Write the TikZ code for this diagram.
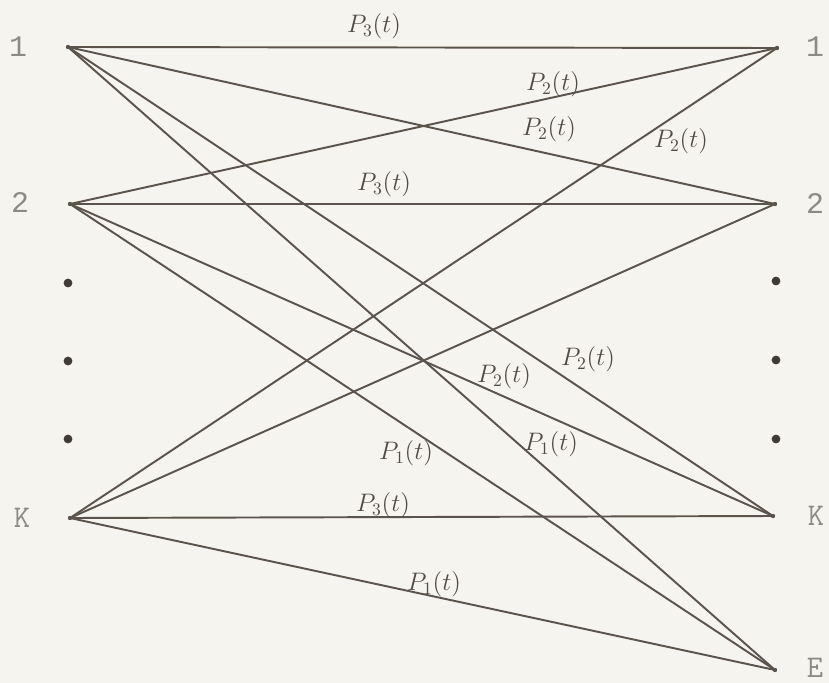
\documentclass[tikz,border=0pt]{standalone}
\usepackage{fontspec}
\setmonofont{Liberation Mono}
\newfontfamily\lmmono{Latin Modern Mono}
\begin{document}
\begin{tikzpicture}[x={(0.02cm,0)}, y={(0,-0.02cm)},
  edge/.style={draw=linec, line width=1.1pt},
  vlab/.style={text=labc, font=\ttfamily\fontsize{17}{17}\selectfont, inner sep=0pt},
  vlabs/.style={text=labc, font=\lmmono\fontsize{18}{18}\selectfont, inner sep=0pt},
  plab/.style={text=linec!90!black, font=\fontsize{14}{14}\selectfont, inner sep=0pt},
  vdot/.style={circle, fill=linec!70!black, inner sep=0pt, minimum size=5pt},
  pt/.style={circle, fill=linec, inner sep=0pt, minimum size=2.5pt}]
\definecolor{bgc}{HTML}{F6F4EE}
\definecolor{linec}{HTML}{5B544C}
\definecolor{labc}{HTML}{8A8A88}
\fill[bgc] (0,0) rectangle (829,683);
\useasboundingbox (0,0) rectangle (829,683);
% vertices
\node[pt] (L1) at (68,47) {};
\node[pt] (L2) at (70,204) {};
\node[pt] (LK) at (70,518) {};
\node[pt] (R1) at (777,48) {};
\node[pt] (R2) at (775,204) {};
\node[pt] (RK) at (773,516) {};
\node[pt] (E) at (775,670) {};
% vertex labels
\node[vlab] (tL1) at (18,47) {1};
\node[vlab] (tL2) at (20,203) {2};
\node[vlabs] (tLK) at (22,518) {K};
\node[vlab] (tR1) at (815,47) {1};
\node[vlab] (tR2) at (815,204) {2};
\node[vlabs] (tRK) at (816,516) {K};
\node[vlabs] (tE) at (815,668) {E};
% dots
\node[vdot] (dl1) at (68,283) {};
\node[vdot] (dl2) at (68,361) {};
\node[vdot] (dl3) at (68,439) {};
\node[vdot] (dr1) at (776,281) {};
\node[vdot] (dr2) at (776,360) {};
\node[vdot] (dr3) at (776,439) {};
% edges
\draw[edge] (L1.center) -- (R1.center);
\draw[edge] (L1.center) -- (R2.center);
\draw[edge] (L1.center) -- (RK.center);
\draw[edge] (L1.center) -- (E.center);
\draw[edge] (L2.center) -- (R1.center);
\draw[edge] (L2.center) -- (R2.center);
\draw[edge] (L2.center) -- (RK.center);
\draw[edge] (L2.center) -- (E.center);
\draw[edge] (LK.center) -- (R1.center);
\draw[edge] (LK.center) -- (R2.center);
\draw[edge] (LK.center) -- (RK.center);
\draw[edge] (LK.center) -- (E.center);
% edge labels
\node[plab] (p11) at (374,26) {$P_3(t)$};
\node[plab] (p21) at (553,84) {$P_2(t)$};
\node[plab] (p12) at (549,129) {$P_2(t)$};
\node[plab] (pK1) at (681,141) {$P_2(t)$};
\node[plab] (p22) at (384,184) {$P_3(t)$};
\node[plab] (p1K) at (588,359) {$P_2(t)$};
\node[plab] (p2K) at (504,376) {$P_2(t)$};
\node[plab] (p1E) at (551,444) {$P_1(t)$};
\node[plab] (p2E) at (406,453) {$P_1(t)$};
\node[plab] (pKK) at (383,505) {$P_3(t)$};
\node[plab] (pKE) at (434,584) {$P_1(t)$};
\end{tikzpicture}
\end{document}
